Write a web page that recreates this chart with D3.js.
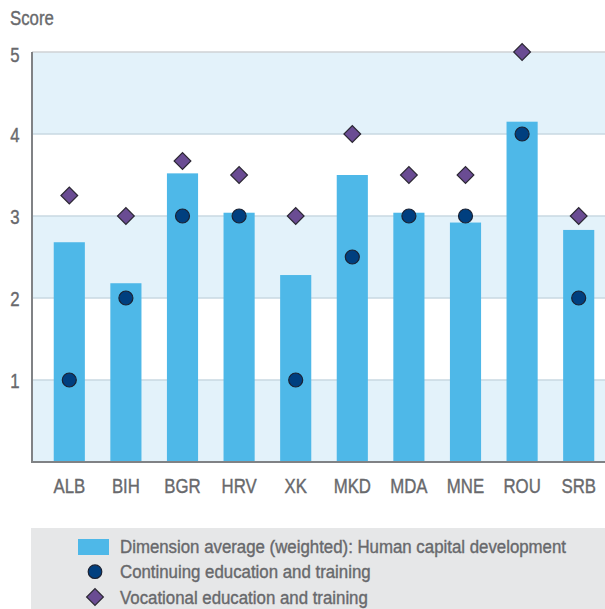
<!DOCTYPE html>
<html lang="en">
<head>
    <meta charset="UTF-8">
    <title>Human capital development scores</title>
    <script src="https://d3js.org/d3.v7.min.js"></script>
    <style>
        body {
            margin: 0;
            background: #fff;
        }
        svg text {
            font-family: "Liberation Sans", Arial, sans-serif;
            fill: #68696c;
            stroke: #68696c;
            stroke-width: 0.4px;
        }
    </style>
</head>
<body>
    <div id="chart"></div>

    <script>
        // Data
        const countries = ["ALB", "BIH", "BGR", "HRV", "XK", "MKD", "MDA", "MNE", "ROU", "SRB"];
        const dimensionAvg = [2.68, 2.18, 3.52, 3.04, 2.28, 3.50, 3.04, 2.92, 4.15, 2.83];
        const continuingEdu = [1.0, 2.0, 3.0, 3.0, 1.0, 2.5, 3.0, 3.0, 4.0, 2.0];
        const vocationalEdu = [3.25, 3.0, 3.67, 3.5, 3.0, 4.0, 3.5, 3.5, 5.0, 3.0];
        const yTicks = [1, 2, 3, 4, 5];
        const legendLabels = [
            "Dimension average (weighted): Human capital development",
            "Continuing education and training",
            "Vocational education and training"
        ];

        const W = 605, H = 609;
        const plot = { left: 32, right: 605, top: 52, bottom: 462 };
        // squeeze the font so it looks like the condensed face of the original
        const AXIS_SQUEEZE = 0.8;
        const LEGEND_SQUEEZE = 0.91;

        const svg = d3.select("#chart")
            .append("svg")
            .attr("width", W)
            .attr("height", H);

        const x = d3.scaleBand()
            .domain(countries)
            .range([41, 607])
            .paddingInner(0.45)
            .paddingOuter(0.225);

        const y = d3.scaleLinear()
            .domain([0, 5])
            .range([plot.bottom, plot.top]);

        // alternating background bands
        const bands = [[0, 1], [2, 3], [4, 5]];
        svg.selectAll(".band")
            .data(bands)
            .enter().append("rect")
            .attr("class", "band")
            .attr("x", plot.left)
            .attr("width", plot.right - plot.left)
            .attr("y", d => y(d[1]))
            .attr("height", d => y(d[0]) - y(d[1]))
            .attr("fill", "#e3f2fa");

        // gridlines
        svg.selectAll(".grid")
            .data(yTicks)
            .enter().append("line")
            .attr("class", "grid")
            .attr("x1", plot.left)
            .attr("x2", plot.right)
            .attr("y1", d => y(d))
            .attr("y2", d => y(d))
            .attr("stroke", d => d === 5 ? "#cfd2d4" : "#c9d8e2")
            .attr("stroke-width", 1.5);

        // bars
        svg.selectAll(".bar")
            .data(countries)
            .enter().append("rect")
            .attr("class", "bar")
            .attr("x", d => x(d))
            .attr("width", x.bandwidth())
            .attr("y", (d, i) => y(dimensionAvg[i]))
            .attr("height", (d, i) => y(0) - y(dimensionAvg[i]))
            .attr("fill", "#4eb8e8");

        // axes lines
        svg.append("line")
            .attr("x1", plot.left).attr("x2", plot.left)
            .attr("y1", plot.top).attr("y2", plot.bottom + 1)
            .attr("stroke", "#808285").attr("stroke-width", 2);
        svg.append("line")
            .attr("x1", plot.left - 1).attr("x2", plot.right)
            .attr("y1", plot.bottom).attr("y2", plot.bottom)
            .attr("stroke", "#808285").attr("stroke-width", 2);

        // diamonds (vocational)
        const diamond = d3.symbol().type(d3.symbolSquare).size(140);
        svg.selectAll(".voc")
            .data(countries)
            .enter().append("path")
            .attr("class", "voc")
            .attr("d", diamond)
            .attr("transform", (d, i) => `translate(${x(d) + x.bandwidth() / 2},${y(vocationalEdu[i])}) rotate(45)`)
            .attr("fill", "#6a4c93")
            .attr("stroke", "#2b2733")
            .attr("stroke-width", 1.2);

        // circles (continuing)
        svg.selectAll(".cont")
            .data(countries)
            .enter().append("circle")
            .attr("class", "cont")
            .attr("cx", d => x(d) + x.bandwidth() / 2)
            .attr("cy", (d, i) => y(continuingEdu[i]))
            .attr("r", 7)
            .attr("fill", "#003f7f")
            .attr("stroke", "#1b2233")
            .attr("stroke-width", 1.2);

        // y tick labels
        svg.selectAll(".ytick")
            .data(yTicks)
            .enter().append("text")
            .attr("class", "ytick")
            .attr("transform", d => `translate(15,${y(d) + (d === 5 ? 3 : 1)}) scale(${AXIS_SQUEEZE},1)`)
            .attr("dy", "0.35em")
            .attr("text-anchor", "middle")
            .style("font-size", "21px")
            .text(d => d);

        svg.append("text")
            .attr("transform", `translate(10,25) scale(${AXIS_SQUEEZE},1)`)
            .style("font-size", "21px")
            .text("Score");

        // x labels
        svg.selectAll(".xlabel")
            .data(countries)
            .enter().append("text")
            .attr("class", "xlabel")
            .attr("transform", d => `translate(${x(d) + x.bandwidth() / 2},493) scale(${AXIS_SQUEEZE},1)`)
            .attr("text-anchor", "middle")
            .style("font-size", "21px")
            .text(d => d);

        // legend
        const legend = svg.append("g");
        legend.append("rect")
            .attr("x", 31).attr("y", 528)
            .attr("width", W - 31).attr("height", H - 528)
            .attr("fill", "#e6e7e8");

        const rowY = [546.8, 571.7, 597];
        legend.append("rect")
            .attr("x", 78).attr("y", 539)
            .attr("width", 31).attr("height", 16)
            .attr("fill", "#4eb8e8");
        legend.append("circle")
            .attr("cx", 95).attr("cy", rowY[1])
            .attr("r", 6.8)
            .attr("fill", "#003f7f")
            .attr("stroke", "#1b2233")
            .attr("stroke-width", 1.2);
        legend.append("path")
            .attr("d", diamond)
            .attr("transform", `translate(95,${rowY[2]}) rotate(45)`)
            .attr("fill", "#6a4c93")
            .attr("stroke", "#2b2733")
            .attr("stroke-width", 1.2);

        legend.selectAll(".legtext")
            .data(legendLabels)
            .enter().append("text")
            .attr("class", "legtext")
            .attr("transform", (d, i) => `translate(120,${rowY[i]}) scale(${LEGEND_SQUEEZE},1)`)
            .attr("dy", "0.36em")
            .style("font-size", "18.5px")
            .text(d => d);
    </script>
</body>
</html>
